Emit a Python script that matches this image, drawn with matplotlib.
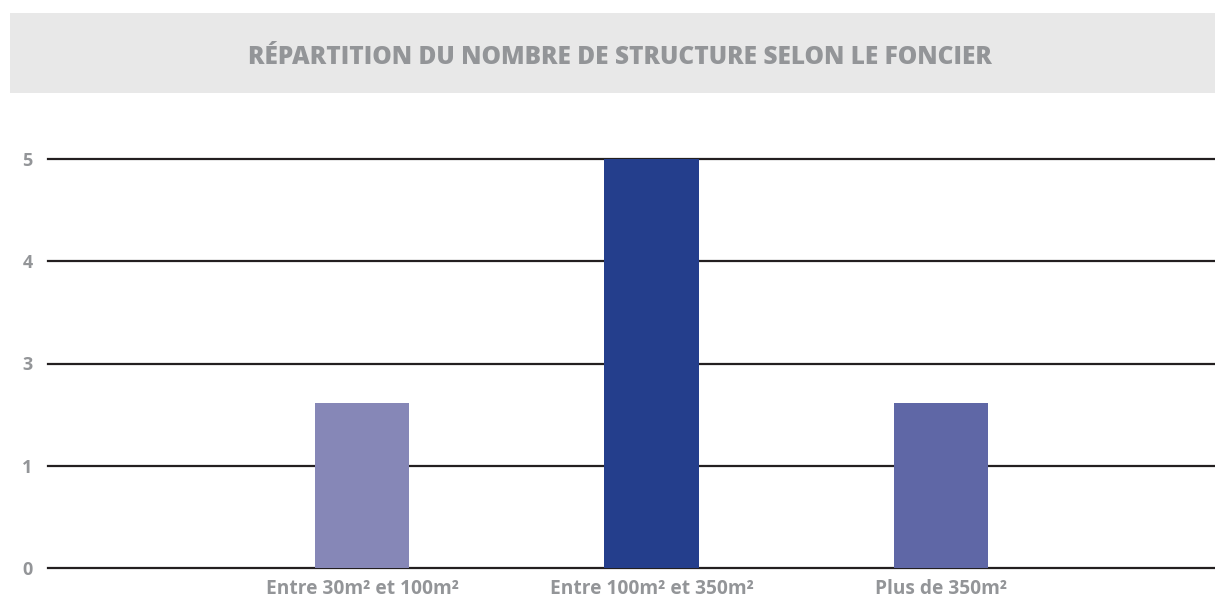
import matplotlib.pyplot as plt
from matplotlib.patches import Rectangle

# Data
categories = ['Entre 30m² et 100m²', 'Entre 100m² et 350m²', 'Plus de 350m²']
# heights in axis units (ticks evenly spaced, labelled 0,1,3,4,5)
values = [1.61, 4.0, 1.61]
tick_labels = ['0', '1', '3', '4', '5']
bar_colors = ['#8687b7', '#243e8c', '#5f67a6']

title = 'RÉPARTITION DU NOMBRE DE STRUCTURE SELON LE FONCIER'
grey = '#939598'

W, H = 1215, 597
fig = plt.figure(figsize=(W / 100, H / 100), dpi=100)

# Title banner
fig.patches.append(Rectangle((10 / W, 1 - 93 / H), 1 - 10 / W, 80 / H,
                             transform=fig.transFigure, facecolor='#e8e8e8',
                             edgecolor='none', zorder=0))
fig.text(620 / W, 1 - 58 / H, title, ha='center', va='center',
         fontsize=17.6, fontweight='heavy', color=grey,
         family=['Open Sans', 'DejaVu Sans'])

ax = fig.add_axes([48 / W, (H - 568) / H, (W - 48) / W, (568 - 159) / H])
x = range(len(categories))
ax.bar(x, values, width=0.325, color=bar_colors, zorder=3)

for i in range(len(tick_labels)):
    ax.axhline(i, color='#231f20', linewidth=1.6, zorder=2, clip_on=False)

ax.set_xlim(-1.085, 2.947)
ax.set_ylim(0, 4)
ax.set_yticks(range(len(tick_labels)))
ax.set_yticklabels(tick_labels)
ax.set_xticks(list(x))
ax.set_xticklabels(categories)
ax.tick_params(axis='both', length=0, labelcolor=grey)
ax.tick_params(axis='x', labelsize=13.8, pad=8)
ax.tick_params(axis='y', labelsize=13, pad=11)
for lbl in ax.get_xticklabels() + ax.get_yticklabels():
    lbl.set_fontfamily(['Open Sans', 'DejaVu Sans'])
    lbl.set_fontweight('bold')
for s in ax.spines.values():
    s.set_visible(False)

fig.savefig('out.png', dpi=100)
